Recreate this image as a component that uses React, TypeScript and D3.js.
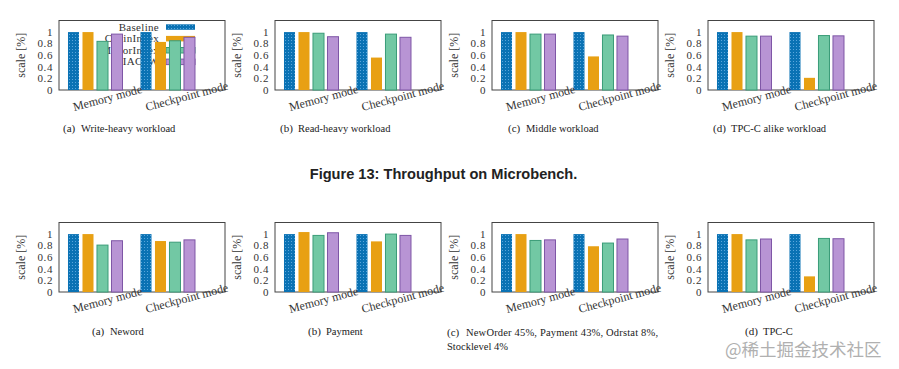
import React from 'react';
import * as d3 from 'd3';

// series and x categories shared by every panel
const seriesNames = ['Baseline', 'ChainIndex', 'MirrorIndex', 'IACoW'];
const modes = ['Memory mode', 'Checkpoint mode'];
const yTicks = [0, 0.2, 0.4, 0.6, 0.8, 1];

// values per panel: [mode][series]
const writeHeavy = [[1, 1, 0.84, 0.965], [1, 0.83, 0.85, 0.91]];
const readHeavy = [[1, 1, 0.98, 0.92], [1, 0.56, 0.965, 0.91]];
const middle = [[1, 1, 0.965, 0.965], [1, 0.58, 0.95, 0.93]];
const tpccAlike = [[1, 1, 0.93, 0.93], [1, 0.21, 0.94, 0.935]];
const neword = [[1, 1, 0.81, 0.885], [1, 0.88, 0.86, 0.9]];
const payment = [[1, 1.035, 0.977, 1.023], [1, 0.874, 1.0, 0.977]];
const mixed = [[1, 1, 0.89, 0.9], [1, 0.79, 0.845, 0.915]];
const tpcc = [[1, 1, 0.9, 0.915], [1, 0.27, 0.925, 0.92]];

const topRow = [writeHeavy, readHeavy, middle, tpccAlike];
const bottomRow = [neword, payment, mixed, tpcc];
const topCaptions = [['(a)', 'Write-heavy workload'], ['(b)', 'Read-heavy workload'], ['(c)', 'Middle workload'], ['(d)', 'TPC-C alike workload']];
const bottomCaptions = [['(a)', 'Neword'], ['(b)', 'Payment'], ['(c)', 'NewOrder 45%, Payment 43%, Odrstat 8%,'], ['(d)', 'TPC-C']];
const captionWrap = 'Stocklevel 4%';
const figureTitle = 'Figure 13: Throughput on Microbench.';

const fills = ['#0a72b4', '#e8a013', '#72c8a4', '#b894d4'];
const strokes = ['#0a72b4', '#e8a013', '#3a9c78', '#7e56a6'];

const serif = '"Liberation Serif", "Times New Roman", "DejaVu Serif", serif';
const frameW = 166;
const frameLefts = [59, 275, 492, 708];
const topCaptionX = [63, 280, 508, 713];
const bottomCaptionX = [92, 308, 447, 745];

const x = d3.scaleLinear().domain([-1, 10.45]).range([0, frameW]);
const barW = x(0.76) - x(0);

type PanelProps = { left: number; y0: number; data: number[][]; legend?: boolean };

const Panel = ({ left, y0, data, legend }: PanelProps) => {
  const y = d3.scaleLinear().domain([0, 1.2]).range([y0, y0 - 69.5]);
  const top = y(1.2);
  return (
    <g transform={`translate(${left},0)`}>
      <rect x={0} y={top} width={frameW} height={y0 - top} fill="none" stroke="#444" strokeWidth={1} />
      {yTicks.map(t => (
        <text key={t} x={-6} y={y(t) + 3.8} textAnchor="end" fontSize={11} letterSpacing={0.6} style={{ fontFamily: serif }} fill="#333">{t}</text>
      ))}
      <text transform={`translate(-34,${(top + y0) / 2}) rotate(-90)`} textAnchor="middle" fontSize={12} style={{ fontFamily: serif }} fill="#333">scale [%]</text>
      {legend && seriesNames.map((s, i) => {
        const ly = top + 6.3 + i * 11.6;
        return (
          <g key={s}>
            <text x={100} y={ly + 3.8} textAnchor="end" fontSize={11} letterSpacing={0.3} style={{ fontFamily: serif }} fill="#333">{s}</text>
            <rect x={107} y={ly - 2.5} width={29} height={5.5} fill={i === 0 ? 'url(#dots)' : fills[i]} stroke={strokes[i]} strokeWidth={i > 1 ? 1 : 0} />
          </g>
        );
      })}
      {data.map((vals, m) => vals.map((v, s) => (
        <rect key={`${m}-${s}`} x={x(m * 5 + s) - barW / 2} y={y(v)} width={barW} height={y0 - y(v)}
          fill={s === 0 ? 'url(#dots)' : fills[s]} stroke={strokes[s]} strokeWidth={s > 1 ? 1 : 0} />
      )))}
      {modes.map((m, i) => (
        <text key={m} transform={`translate(${x(i * 5 + 1.5) - 21},${y0 + 21}) rotate(-15)`} fontSize={12} style={{ fontFamily: serif }} fill="#333">{m}</text>
      ))}
    </g>
  );
};

const Caption = ({ x0, cy, label, text }: { x0: number; cy: number; label: string; text: string }) => (
  <g style={{ fontFamily: serif }} fill="#222">
    <text x={x0} y={cy} fontSize={11}>{label}</text>
    <text x={x0 + 18} y={cy} fontSize={10.5}>{text}</text>
  </g>
);

const App = () => (
  <svg width={899} height={369} style={{ position: 'absolute', left: 0, top: 0, background: '#fff' }}>
    <defs>
      <pattern id="dots" width={3} height={3} patternUnits="userSpaceOnUse">
        <rect width={3} height={3} fill="#0a72b4" />
        <rect x={1} y={1} width={1} height={1} fill="#5aa6dc" />
      </pattern>
    </defs>
    {topRow.map((d, i) => (
      <Panel key={`t${i}`} left={frameLefts[i]} y0={90} data={d} legend={i === 0} />
    ))}
    {bottomRow.map((d, i) => (
      <Panel key={`b${i}`} left={frameLefts[i]} y0={292} data={d} />
    ))}
    {topCaptions.map(([l, t], i) => (
      <Caption key={l} x0={topCaptionX[i]} cy={132} label={l} text={t} />
    ))}
    {bottomCaptions.map(([l, t], i) => i === 2 ? (
      <g key={l} style={{ fontFamily: serif }} fill="#222">
        <text x={447} y={336} fontSize={11}>{l}</text>
        <text x={466} y={336} fontSize={10.5} textLength={192} lengthAdjust="spacing">{t}</text>
        <text x={447} y={350} fontSize={10.5}>{captionWrap}</text>
      </g>
    ) : (
      <Caption key={l} x0={bottomCaptionX[i]} cy={335} label={l} text={t} />
    ))}
    <text x={443.5} y={179} textAnchor="middle" fontSize={14.6} fontWeight="bold" style={{ fontFamily: '"Liberation Sans", Arial, sans-serif' }} fill="#222">{figureTitle}</text>
    <text x={725} y={356} fontSize={17.5} style={{ fontFamily: '"Noto Sans CJK SC", sans-serif' }} fill="#b0b0b0">@稀土掘金技术社区</text>
  </svg>
);

export default App;
